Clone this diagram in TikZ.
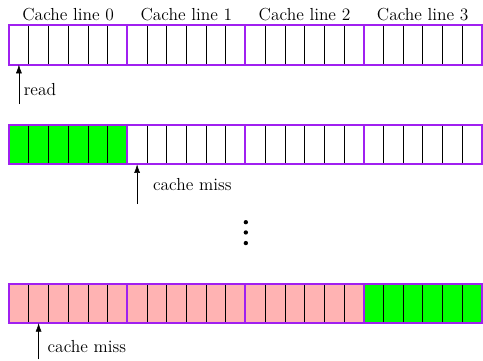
\documentclass[tikz,border=0pt]{standalone}
\usetikzlibrary{positioning,arrows.meta}
\definecolor{linepurple}{RGB}{160,32,240}
\definecolor{hitgreen}{RGB}{0,255,0}
\definecolor{misspink}{RGB}{255,179,179}

\begin{document}
\begin{tikzpicture}[>={Latex[length=2.2mm,width=1.5mm]}, font=\fontsize{12.6}{15}\selectfont]
        \tikzset{cell/.style={draw, rectangle, minimum width=0.5cm,
                 minimum height=1cm, inner sep=0pt, outer sep=0pt},
                 cline/.style={draw=linepurple, line width=1.5pt, rectangle,
                 minimum width=3cm, minimum height=1cm, inner sep=0pt},
                 dot/.style={circle, fill, inner sep=0pt, minimum size=0.11cm}}
        \useasboundingbox (0,0) rectangle (12.26,9.14);
        %% Fila 1: lectura
        \foreach \k in {0,...,23}
            \node[cell, fill=white] (a\k) at (0.48+0.5*\k, 8.0) {};
        \foreach \l in {0,...,3}{
            \node[cline] (la\l) at (1.73+3*\l, 8.0) {};
            \node[above=-1.5pt] (ta\l) at (la\l.north) {Cache line \l};
        }
        \coordinate (ra) at (0.48, 6.5);
        \draw[->] (ra) -- node[right, yshift=-4pt]{read} (a0.south);
        %% Fila 2: primera linea cargada
        \foreach \k in {0,...,5}
            \node[cell, fill=hitgreen] (b\k) at (0.48+0.5*\k, 5.47) {};
        \foreach \k in {6,...,23}
            \node[cell, fill=white] (b\k) at (0.48+0.5*\k, 5.47) {};
        \foreach \l in {0,...,3}
            \node[cline] (lb\l) at (1.73+3*\l, 5.47) {};
        \coordinate (rb) at (3.48, 3.96);
        \draw[->] (rb) -- node[right=8pt]{cache miss} (b6.south);
        %% Puntos
        \node[dot] (d1) at (6.24, 3.50) {};
        \node[dot] (d2) at (6.24, 3.24) {};
        \node[dot] (d3) at (6.24, 2.97) {};
        %% Fila 3: reemplazo
        \foreach \k in {0,...,17}
            \node[cell, fill=misspink] (c\k) at (0.48+0.5*\k, 1.44) {};
        \foreach \k in {18,...,23}
            \node[cell, fill=hitgreen] (c\k) at (0.48+0.5*\k, 1.44) {};
        \foreach \l in {0,...,3}
            \node[cline] (lc\l) at (1.73+3*\l, 1.44) {};
        \coordinate (rc) at (0.98, 0.02);
        \draw[->] (rc) -- node[right=3pt, yshift=-4pt]{cache miss} (c1.south);
\end{tikzpicture}
\end{document}
